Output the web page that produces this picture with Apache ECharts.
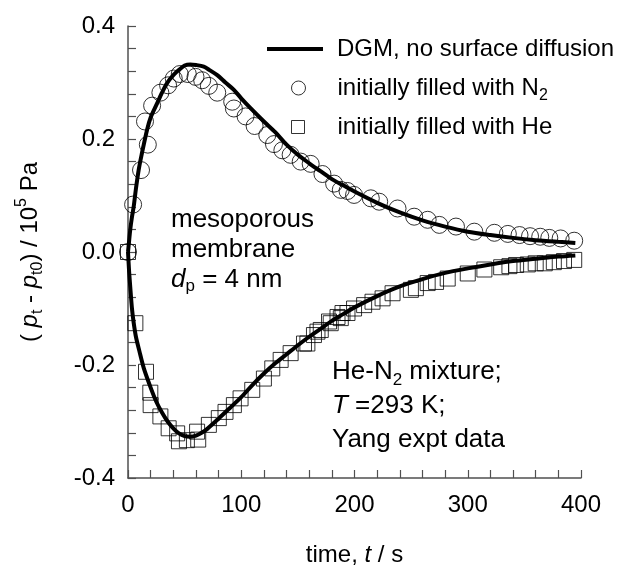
<!DOCTYPE html>
<html><head><meta charset="utf-8">
<script src="https://cdn.jsdelivr.net/npm/echarts@6/dist/echarts.min.js"></script>
<style>html,body{margin:0;padding:0;background:#fff}#c{width:619px;height:570px}</style>
</head><body><div id="c"></div>
<script>
// ---- data ----
const xTickLabels = ['0', '100', '200', '300', '400'];
const yTickLabels = ['-0.4', '-0.2', '0.0', '0.2', '0.4'];

const n2Time  = [0, 4.5, 11.5, 15, 17.5, 21.3, 28.6, 35.4, 40.4, 45.7, 52.8, 59.6, 65.5, 71.4, 78.8, 92, 93.5, 103.8, 111.8, 123, 128.9, 136.3, 143.6, 152.5, 161.3, 171.7, 182, 187.9, 193.8, 199.6, 214.4, 221.8, 238, 252.7, 264.6, 274.9, 289.6, 305.8, 323.5, 335.4, 345.7, 355, 364, 372, 382, 394];
const n2Value = [0, 0.084, 0.145, 0.231, 0.19, 0.259, 0.282, 0.295, 0.307, 0.315, 0.315, 0.31, 0.304, 0.294, 0.282, 0.266, 0.254, 0.24, 0.223, 0.207, 0.191, 0.18, 0.172, 0.16, 0.156, 0.138, 0.121, 0.11, 0.108, 0.101, 0.095, 0.089, 0.077, 0.0625, 0.057, 0.048, 0.045, 0.036, 0.034, 0.032, 0.03, 0.028, 0.027, 0.025, 0.024, 0.02];

const heTime  = [0, 6.5, 15.9, 19.7, 20, 28.6, 35.9, 43.4, 45, 52, 61, 62, 71.4, 80.2, 86.1, 93.5, 99.4, 109.7, 120, 127.4, 134.8, 143.6, 155.4, 158.4, 164.2, 167.3, 170.2, 177.5, 179, 185, 187.9, 189.4, 193.8, 199.6, 208.5, 215.9, 224.8, 233.6, 249.8, 254.2, 264.6, 272, 282.3, 300, 314.7, 329.5, 336.8, 342.7, 353, 360, 368, 376, 385, 394];
const heValue = [0, -0.126, -0.212, -0.249, -0.271, -0.291, -0.312, -0.321, -0.335, -0.333, -0.318, -0.332, -0.306, -0.294, -0.283, -0.271, -0.259, -0.244, -0.224, -0.206, -0.191, -0.179, -0.162, -0.162, -0.147, -0.141, -0.138, -0.123, -0.126, -0.115, -0.117, -0.108, -0.108, -0.1, -0.094, -0.088, -0.082, -0.073, -0.067, -0.064, -0.055, -0.053, -0.047, -0.038, -0.031, -0.027, -0.025, -0.023, -0.022, -0.02, -0.02, -0.018, -0.016, -0.014];

const dgmUpTime  = [0, 1, 2, 3.5, 5, 7, 9.4, 12, 16.8, 20, 25.7, 30, 34.5, 40, 44.8, 50, 55, 60, 66.9, 72, 78.8, 86, 93.5, 100, 108, 120, 130, 140, 150, 160, 170, 180, 190, 200, 220, 240, 260, 280, 300, 320, 340, 360, 380, 395];
const dgmUpValue = [0, 0.02, 0.04, 0.062, 0.08, 0.112, 0.145, 0.172, 0.216, 0.238, 0.263, 0.282, 0.299, 0.313, 0.322, 0.33, 0.332, 0.331, 0.328, 0.322, 0.313, 0.3, 0.287, 0.272, 0.255, 0.231, 0.212, 0.19, 0.172, 0.157, 0.143, 0.129, 0.118, 0.107, 0.087, 0.07, 0.056, 0.045, 0.036, 0.03, 0.025, 0.021, 0.018, 0.016];

const dgmLowTime  = [0, 1, 2, 3.5, 5, 7, 10, 14, 20, 25, 30, 35, 40, 45, 50, 55, 60, 65, 70, 80, 90, 100, 110, 120, 130, 140, 150, 160, 170, 180, 190, 200, 220, 240, 260, 280, 300, 320, 340, 360, 380, 395];
const dgmLowValue = [0, -0.035, -0.062, -0.1, -0.125, -0.15, -0.175, -0.206, -0.24, -0.265, -0.284, -0.3, -0.312, -0.321, -0.326, -0.327, -0.325, -0.32, -0.313, -0.295, -0.276, -0.257, -0.235, -0.215, -0.197, -0.181, -0.165, -0.15, -0.136, -0.122, -0.11, -0.098, -0.078, -0.061, -0.048, -0.037, -0.029, -0.022, -0.016, -0.012, -0.008, -0.006];

const lineName = 'DGM, no surface diffusion';
const n2Name = 'initially filled with N2';
const heName = 'initially filled with He';

// ---- helpers ----
const zip = (a, b) => a.map((v, i) => [v, b[i]]);
const FONT = 'Liberation Sans, Arial, sans-serif';
const AX = '#505050';
const base = { fontFamily: FONT, fontSize: 24, color: '#000' };
const richSet = {
  i:   { fontFamily: FONT, fontSize: 24, color: '#000', fontStyle: 'italic', lineHeight: 32 },
  sub: { fontFamily: FONT, fontSize: 16, color: '#000', verticalAlign: 'bottom', lineHeight: 16 },
  sup: { fontFamily: FONT, fontSize: 16, color: '#000', verticalAlign: 'top', lineHeight: 16 }
};

const chart = echarts.init(document.getElementById('c'), null, { renderer: 'canvas' });

function legendComp(name, icon, left, top, w, h, padLeft, style) {
  return {
    show: true, data: [name], icon: icon, left: left, top: top,
    itemWidth: w, itemHeight: h, padding: 0, selectedMode: false,
    itemStyle: style,
    textStyle: Object.assign({}, base, { lineHeight: 32, padding: [0, 0, 0, padLeft], rich: richSet }),
    formatter: n => n === n2Name ? 'initially filled with N{sub|2}' : n
  };
}

const annRich = (lh) => ({
  i: { fontFamily: FONT, fontSize: 26, fill: '#000', fontStyle: 'italic', lineHeight: lh },
  sub: { fontFamily: FONT, fontSize: 17, fill: '#000', verticalAlign: 'bottom', lineHeight: 15 }
});

const option = {
  animation: false,
  backgroundColor: '#fff',
  grid: { left: 128, right: 38, top: 26, bottom: 92, containLabel: false, outerBoundsMode: 'none' },
  legend: [
    legendComp(lineName, 'rect', 267, 33, 56, 4, 9, { color: '#000', borderWidth: 0 }),
    legendComp(n2Name, 'circle', 291, 72, 14, 14, 27, { color: 'rgba(0,0,0,0)', borderColor: '#000', borderWidth: 1 }),
    legendComp(heName, 'rect', 291, 111, 13, 13, 28, { color: 'rgba(0,0,0,0)', borderColor: '#000', borderWidth: 1 })
  ],
  xAxis: {
    type: 'value', min: 0, max: 400, interval: 20,
    axisLine: { show: true, onZero: false, lineStyle: { color: AX, width: 1.5 } },
    axisTick: { show: true, inside: true, length: 8, lineStyle: { color: AX, width: 1.2 } },
    splitLine: { show: false },
    axisLabel: {
      margin: 15, fontFamily: FONT, fontSize: 24, color: '#000',
      formatter: v => { const s = String(Math.round(v)); return (Math.abs(v - Math.round(v)) < 1e-6 && xTickLabels.includes(s)) ? s : ''; }
    },
    name: 'time, {i|t} / s', nameLocation: 'middle', nameGap: 61,
    nameTextStyle: Object.assign({}, base, { lineHeight: 28, rich: richSet })
  },
  yAxis: {
    type: 'value', min: -0.4, max: 0.4, interval: 0.04,
    axisLine: { show: true, onZero: false, lineStyle: { color: AX, width: 1.5 } },
    axisTick: { show: true, inside: true, length: 8, lineStyle: { color: AX, width: 1.2 } },
    splitLine: { show: false },
    axisLabel: {
      margin: 13, fontFamily: FONT, fontSize: 24, color: '#000',
      formatter: v => {
        if (Math.abs(v * 5 - Math.round(v * 5)) > 1e-6) return '';
        const s = (Math.round(v * 5) / 5).toFixed(1).replace('-0.0', '0.0');
        return yTickLabels.includes(s) ? s : '';
      }
    },
    name: '( {i|p}{sub|t} - {i|p}{sub|t0}) / 10{sup|5} Pa', nameLocation: 'middle', nameRotate: 90, nameGap: 82,
    nameTextStyle: Object.assign({}, base, { lineHeight: 32, rich: richSet })
  },
  graphic: [
    {
      type: 'text', left: 171, top: 205, z: 10,
      style: { text: 'mesoporous\nmembrane\n{i|d}{sub|p} = 4 nm', font: '26px ' + FONT, fill: '#000', lineHeight: 30, rich: annRich(30) }
    },
    {
      type: 'text', left: 332, top: 355, z: 10,
      style: { text: 'He-N{sub|2} mixture;\n{i|T} =293 K;\nYang expt data', font: '26px ' + FONT, fill: '#000', lineHeight: 34, rich: annRich(34) }
    }
  ],
  series: [
    {
      name: n2Name, type: 'scatter', symbol: 'circle', symbolSize: 17, z: 2,
      data: zip(n2Time, n2Value),
      itemStyle: { color: 'rgba(0,0,0,0)', borderColor: '#000', borderWidth: 1 }
    },
    {
      name: heName, type: 'scatter', symbol: 'rect', symbolSize: 15, z: 2,
      data: zip(heTime, heValue),
      itemStyle: { color: 'rgba(0,0,0,0)', borderColor: '#000', borderWidth: 1 }
    },
    {
      name: lineName, type: 'line', showSymbol: false, smooth: 0.3, z: 3,
      data: zip(dgmUpTime, dgmUpValue),
      lineStyle: { color: '#000', width: 4 }, itemStyle: { color: '#000' }
    },
    {
      name: lineName, type: 'line', showSymbol: false, smooth: 0.3, z: 3,
      data: zip(dgmLowTime, dgmLowValue),
      lineStyle: { color: '#000', width: 4 }, itemStyle: { color: '#000' }
    }
  ]
};
chart.setOption(option);
</script>
</body></html>
